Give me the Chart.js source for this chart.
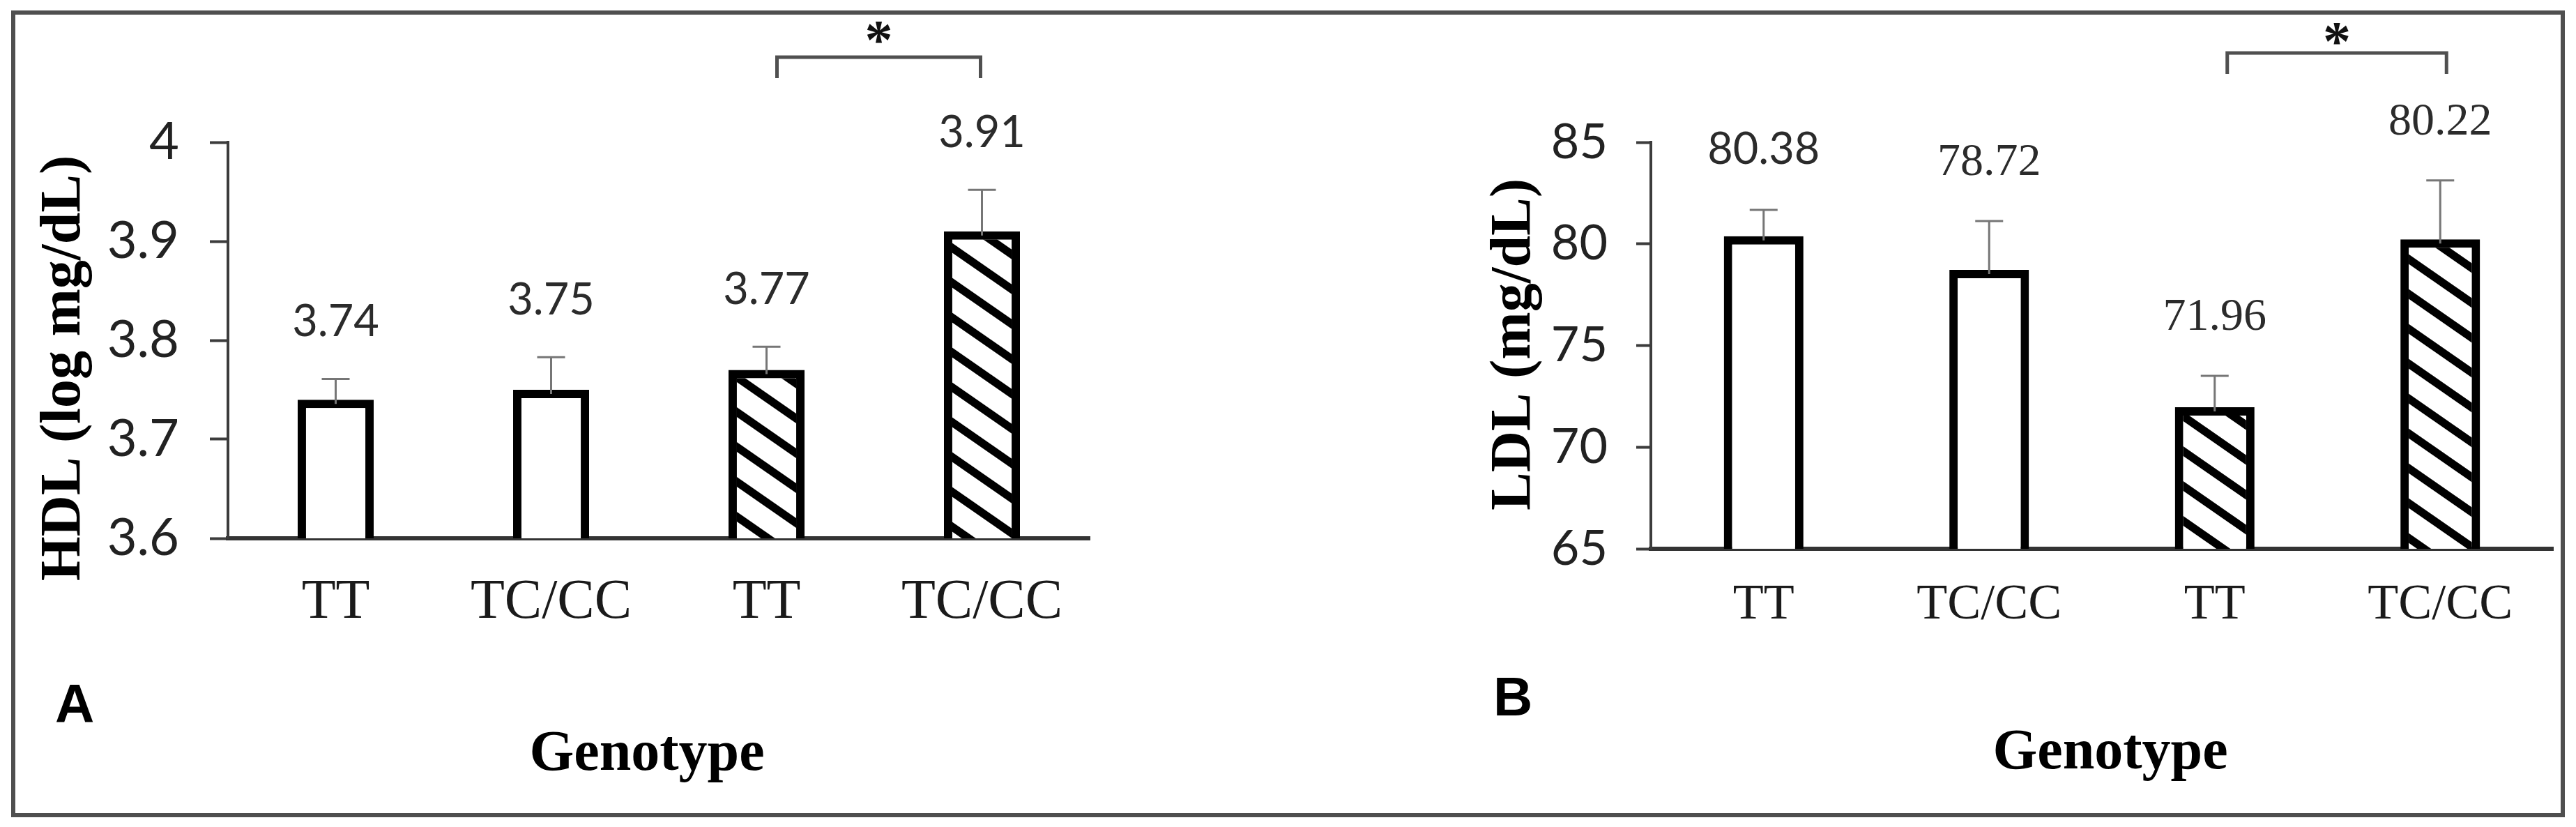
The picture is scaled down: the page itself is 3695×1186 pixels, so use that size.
<!DOCTYPE html>
<html>
<head>
<meta charset="utf-8">
<script src="https://cdn.jsdelivr.net/npm/chart.js@4.4.0/dist/chart.umd.min.js"></script>
<style>
    html, body { margin: 0; padding: 0; background: #fff; }
    body { width: 3695px; height: 1186px; position: relative; overflow: hidden; }
    .painel { position: absolute; top: 0; }
    .painel canvas { display: block; }
    #moldura { position: absolute; left: 16px; top: 15px; width: 3663px; height: 1157px; box-sizing: border-box; border: 6px solid #4f4f4f; pointer-events: none; }
</style>
</head>
<body>
<div class="painel" style="left:0px"><canvas id="chartHdl" width="1700" height="1186"></canvas></div>
<div class="painel" style="left:1850px"><canvas id="chartLdl" width="1845" height="1186"></canvas></div>
<div id="moldura"></div>
<script>
// dados
const genotipos = ['TT', 'TC/CC', 'TT', 'TC/CC'];

const hdlValores = [3.74, 3.75, 3.77, 3.91];
const hdlErros = [0.021, 0.033, 0.0235, 0.042];
const hdlRotulos = ['3.74', '3.75', '3.77', '3.91'];
const hdlTicks = [3.6, 3.7, 3.8, 3.9, 4];

const ldlValores = [80.38, 78.72, 71.96, 80.22];
const ldlErros = [1.29, 2.4, 1.55, 2.9];
const ldlRotulos = ['80.38', '78.72', '71.96', '80.22'];
const ldlTicks = [65, 70, 75, 80, 85];

// hachura diagonal das barras do segundo grupo
function criarHachura() {
    let tile = document.createElement('canvas');
    let w = 72, p = 50, t = 14;
    tile.width = w;
    tile.height = p;
    let c = tile.getContext('2d');
    c.fillStyle = '#ffffff';
    c.fillRect(0, 0, w, p);
    c.fillStyle = '#000000';
    for (let k = -1; k <= 1; k++) {
        c.beginPath();
        c.moveTo(0, k * p);
        c.lineTo(w, k * p + p);
        c.lineTo(w, k * p + p + t);
        c.lineTo(0, k * p + t);
        c.closePath();
        c.fill();
    }
    return c.createPattern(tile, 'repeat');
}

const hachura = criarHachura();

function extras(p) {
    return {
        id: 'extras',
        afterDatasetsDraw(chart) {
            let ctx = chart.ctx;
            let y = chart.scales.y;
            let barras = chart.getDatasetMeta(0).data;
            ctx.save();

            // barras de erro + rotulos
            barras.forEach((barra, i) => {
                let topo = y.getPixelForValue(p.valores[i] + p.erros[i]);
                ctx.strokeStyle = '#767676';
                ctx.lineWidth = 3;
                ctx.beginPath();
                ctx.moveTo(barra.x, barra.y + 6);
                ctx.lineTo(barra.x, topo);
                ctx.moveTo(barra.x - 20, topo);
                ctx.lineTo(barra.x + 20, topo);
                ctx.stroke();

                ctx.font = p.fontesRotulo[i];
                ctx.fillStyle = '#2b2b2b';
                ctx.textAlign = 'center';
                ctx.textBaseline = 'alphabetic';
                ctx.fillText(p.rotulos[i], barra.x, topo - p.gapRotulo);
            });

            // colchete de significancia
            let x1 = barras[2].x + p.colchete[0];
            let x2 = barras[3].x + p.colchete[1];
            ctx.strokeStyle = '#505050';
            ctx.lineWidth = 5;
            ctx.beginPath();
            ctx.moveTo(x1, p.colchete[3]);
            ctx.lineTo(x1, p.colchete[2]);
            ctx.lineTo(x2, p.colchete[2]);
            ctx.lineTo(x2, p.colchete[3]);
            ctx.stroke();
            ctx.font = 'bold 80px "Liberation Serif"';
            ctx.fillStyle = '#111';
            ctx.textAlign = 'center';
            ctx.fillText('*', (x1 + x2) / 2, p.estrelaY);

            // titulos
            ctx.fillStyle = '#000';
            ctx.font = 'bold 82px "Liberation Serif"';
            ctx.save();
            ctx.translate(p.tituloY[0], p.tituloY[1]);
            ctx.rotate(-Math.PI / 2);
            ctx.textAlign = 'center';
            ctx.fillText(p.tituloEixo, 0, 0);
            ctx.restore();

            ctx.textAlign = 'center';
            ctx.fillText('Genotype', p.tituloX[0], p.tituloX[1]);

            ctx.font = 'bold 78px "Liberation Sans"';
            ctx.textAlign = 'left';
            ctx.fillText(p.letra, p.letraPos[0], p.letraPos[1]);
            ctx.restore();
        }
    };
}

function criarGrafico(id, p) {
    let ctx = document.getElementById(id).getContext('2d');
    return new Chart(ctx, {
        type: 'bar',
        data: {
            labels: genotipos,
            datasets: [{
                data: p.valores,
                backgroundColor: ['#ffffff', '#ffffff', hachura, hachura],
                borderColor: '#000000',
                borderWidth: 12,
                borderSkipped: false,
                barPercentage: 0.353,
                categoryPercentage: 1
            }]
        },
        options: {
            responsive: false,
            animation: false,
            events: [],
            layout: { padding: p.padding },
            plugins: {
                legend: { display: false },
                tooltip: { enabled: false }
            },
            scales: {
                x: {
                    grid: { display: false, drawTicks: false },
                    border: { display: true, color: '#333333', width: 6 },
                    ticks: {
                        color: '#1a1a1a',
                        font: { family: 'Liberation Serif', size: p.catTamanho, lineHeight: 1 },
                        padding: p.catPad,
                        maxRotation: 0,
                        autoSkip: false
                    },
                    afterFit: s => { s.height = 200; }
                },
                y: {
                    min: p.ticks[0],
                    max: p.ticks[p.ticks.length - 1],
                    afterBuildTicks: s => { s.ticks = p.ticks.map(v => ({ value: v })); },
                    grid: { drawOnChartArea: false, drawTicks: true, tickLength: p.tickLen, tickWidth: 4, color: '#3c3c3c' },
                    border: { display: true, color: '#3c3c3c', width: 4 },
                    ticks: {
                        color: '#222',
                        font: { family: 'Lato', size: p.tickTamanho },
                        padding: p.tickPad,
                        callback: v => `${v}`
                    },
                    afterFit: s => { s.width = p.eixoLeft; }
                }
            }
        },
        plugins: [extras(p)]
    });
}

var hdlChart = criarGrafico('chartHdl', {
    valores: hdlValores,
    erros: hdlErros,
    rotulos: hdlRotulos,
    ticks: hdlTicks,
    fontesRotulo: ['63px Lato', '63px Lato', '63px Lato', '63px Lato'],
    gapRotulo: 61,
    padding: { left: 0, top: 204, right: 137, bottom: 214 },
    eixoLeft: 327,
    tickLen: 26,
    tickPad: 44,
    tickTamanho: 74,
    catTamanho: 80,
    catPad: 53,
    colchete: [15, -2, 82, 112],
    estrelaY: 84,
    tituloEixo: 'HDL (log mg/dL)',
    tituloY: [114, 528],
    tituloX: [928, 1104],
    letra: 'A',
    letraPos: [79, 1036]
});

var ldlChart = criarGrafico('chartLdl', {
    valores: ldlValores,
    erros: ldlErros,
    rotulos: ldlRotulos,
    ticks: ldlTicks,
    fontesRotulo: ['63px Lato', '66px "Liberation Serif"', '66px "Liberation Serif"', '66px "Liberation Serif"'],
    gapRotulo: 66,
    padding: { left: 0, top: 204, right: 33, bottom: 199 },
    eixoLeft: 518,
    tickLen: 21,
    tickPad: 41,
    tickTamanho: 70,
    catTamanho: 72,
    catPad: 45,
    colchete: [18, 9, 76, 106],
    estrelaY: 86,
    tituloEixo: 'LDL (mg/dL)',
    tituloY: [344, 494],
    tituloX: [1177, 1102],
    letra: 'B',
    letraPos: [292, 1026]
});
</script>
</body>
</html>
